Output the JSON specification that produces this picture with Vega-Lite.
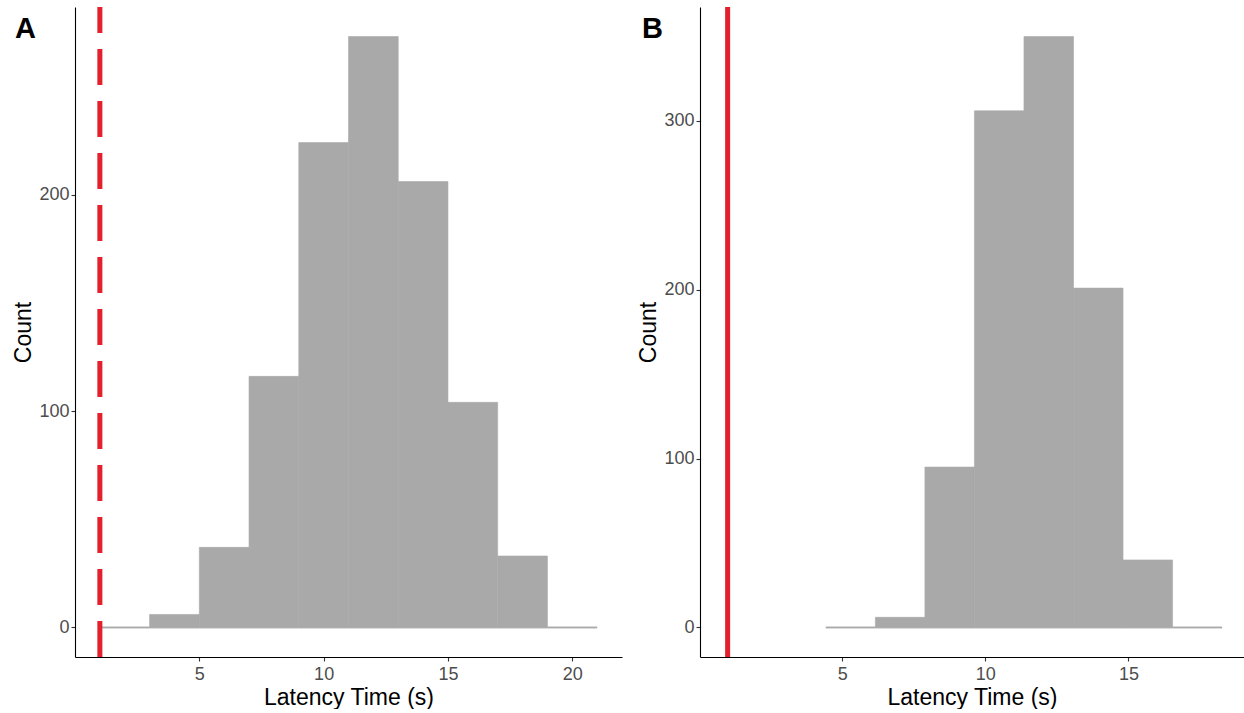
{
  "$schema": "https://vega.github.io/schema/vega-lite/v6.json",
  "autosize": {"type": "pad"},
  "padding": {"left": 12, "top": 4, "right": 0, "bottom": 0},
  "background": "white",
  "bounds": "flush",
  "spacing": 78,
  "config": {
    "font": "Liberation Sans",
    "view": {"stroke": null},
    "axis": {
      "grid": false,
      "domainColor": "#000000",
      "domainWidth": 1.1,
      "tickColor": "#333333",
      "tickSize": 4,
      "tickWidth": 1.1,
      "labelColor": "#4d4d4d",
      "labelFontSize": 18,
      "labelPadding": 2,
      "labelFont": "Liberation Sans",
      "titleFont": "Liberation Sans",
      "titleFontSize": 23,
      "titleFontWeight": "normal",
      "titleColor": "#000000",
      "titlePadding": 3
    },
    "axisX": {"labelPadding": 4, "titlePadding": 3},
    "title": {"fontSize": 29, "fontWeight": "bold", "anchor": "start", "frame": "group", "color": "#000000", "font": "Liberation Sans"}
  },
  "datasets": {
    "histA": [
      {"bin_start": 1, "bin_end": 3, "count": 0},
      {"bin_start": 3, "bin_end": 5, "count": 6},
      {"bin_start": 5, "bin_end": 7, "count": 37},
      {"bin_start": 7, "bin_end": 9, "count": 116},
      {"bin_start": 9, "bin_end": 11, "count": 224},
      {"bin_start": 11, "bin_end": 13, "count": 273},
      {"bin_start": 13, "bin_end": 15, "count": 206},
      {"bin_start": 15, "bin_end": 17, "count": 104},
      {"bin_start": 17, "bin_end": 19, "count": 33},
      {"bin_start": 19, "bin_end": 21, "count": 0}
    ],
    "histB": [
      {"bin_start": 4.43, "bin_end": 6.16, "count": 0},
      {"bin_start": 6.16, "bin_end": 7.89, "count": 6},
      {"bin_start": 7.89, "bin_end": 9.62, "count": 95},
      {"bin_start": 9.62, "bin_end": 11.35, "count": 306},
      {"bin_start": 11.35, "bin_end": 13.08, "count": 350},
      {"bin_start": 13.08, "bin_end": 14.81, "count": 201},
      {"bin_start": 14.81, "bin_end": 16.54, "count": 40},
      {"bin_start": 16.54, "bin_end": 18.27, "count": 0}
    ],
    "refA": [{"latency": 1}],
    "refB": [{"latency": 1}]
  },
  "hconcat": [
    {
      "width": 547,
      "height": 650,
      "title": {"text": "A", "dx": -60, "baseline": "alphabetic", "offset": -62},
      "layer": [
        {
          "data": {"name": "histA"},
          "mark": {"type": "rule", "stroke": "#b8b8b8", "strokeWidth": 2},
          "encoding": {
            "x": {"field": "bin_start", "type": "quantitative", "scale": {"domain": [0, 22], "nice": false, "zero": false}, "axis": {"values": [5, 10, 15, 20], "title": "Latency Time (s)"}},
            "x2": {"field": "bin_end"},
            "y": {"datum": 0, "type": "quantitative", "scale": {"domain": [-13.65, 286.65], "nice": false, "zero": false}, "axis": {"values": [0, 100, 200], "title": "Count"}}
          }
        },
        {
          "data": {"name": "histA"},
          "mark": {"type": "rect", "fill": "#a9a9a9", "stroke": "#a9a9a9", "strokeWidth": 0.6},
          "encoding": {
            "x": {"field": "bin_start", "type": "quantitative"},
            "x2": {"field": "bin_end"},
            "y": {"field": "count", "type": "quantitative", "title": "Count"},
            "y2": {"datum": 0}
          }
        },
        {
          "data": {"name": "refA"},
          "mark": {"type": "rule", "stroke": "#e3202d", "strokeWidth": 5, "strokeDash": [36, 16]},
          "encoding": {
            "x": {"field": "latency", "type": "quantitative"},
            "y": {"datum": -13.65, "type": "quantitative"},
            "y2": {"datum": 286.65}
          }
        }
      ]
    },
    {
      "width": 544,
      "height": 650,
      "title": {"text": "B", "dx": -58, "baseline": "alphabetic", "offset": -62},
      "layer": [
        {
          "data": {"name": "histB"},
          "mark": {"type": "rule", "stroke": "#b8b8b8", "strokeWidth": 2},
          "encoding": {
            "x": {"field": "bin_start", "type": "quantitative", "scale": {"domain": [0.035, 19.035], "nice": false, "zero": false}, "axis": {"values": [5, 10, 15], "title": "Latency Time (s)"}},
            "x2": {"field": "bin_end"},
            "y": {"datum": 0, "type": "quantitative", "scale": {"domain": [-17.5, 367.5], "nice": false, "zero": false}, "axis": {"values": [0, 100, 200, 300], "title": "Count"}}
          }
        },
        {
          "data": {"name": "histB"},
          "mark": {"type": "rect", "fill": "#a9a9a9", "stroke": "#a9a9a9", "strokeWidth": 0.6},
          "encoding": {
            "x": {"field": "bin_start", "type": "quantitative"},
            "x2": {"field": "bin_end"},
            "y": {"field": "count", "type": "quantitative", "title": "Count"},
            "y2": {"datum": 0}
          }
        },
        {
          "data": {"name": "refB"},
          "mark": {"type": "rule", "stroke": "#e3202d", "strokeWidth": 5},
          "encoding": {
            "x": {"field": "latency", "type": "quantitative"},
            "y": {"datum": -17.5, "type": "quantitative"},
            "y2": {"datum": 367.5}
          }
        }
      ]
    }
  ]
}
